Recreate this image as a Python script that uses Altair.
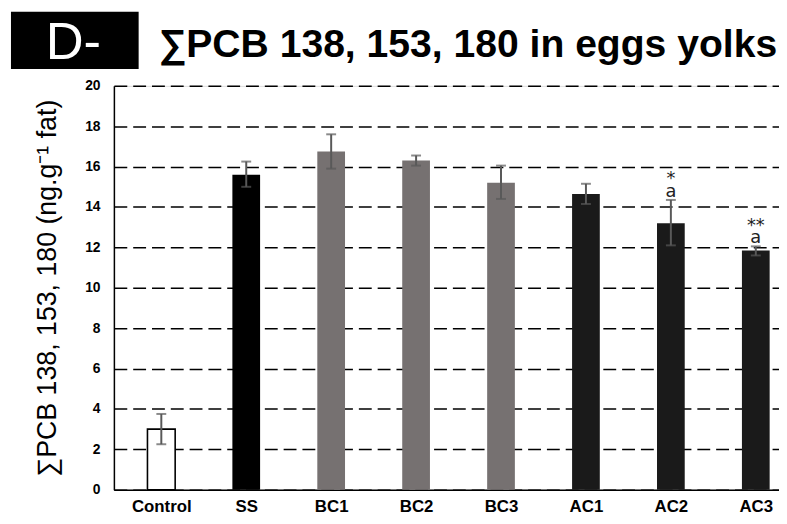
import altair as alt
import pandas as pd

groups = ["Control", "SS", "BC1", "BC2", "BC3", "AC1", "AC2", "AC3"]
means = [3.0, 15.6, 16.75, 16.3, 15.2, 14.65, 13.2, 11.85]
err_lo = [2.25, 15.0, 15.9, 16.05, 14.4, 14.15, 12.1, 11.6]
err_hi = [3.75, 16.25, 17.6, 16.55, 16.05, 15.15, 14.35, 12.05]
stars = ["", "", "", "", "", "", "*", "**"]
letters = ["", "", "", "", "", "", "a", "a"]
bar_colors = ["#ffffff", "#000000", "#767171", "#767171", "#767171", "#1a1a1a", "#1a1a1a", "#1a1a1a"]
y_ticks = list(range(0, 21, 2))
title_text = ["∑PCB 138, 153, 180 in eggs yolks"]
badge_label = ["D-"]

df = pd.DataFrame({
    "group": groups,
    "idx": list(range(len(groups))),
    "mean": means,
    "lo": err_lo,
    "hi": err_hi,
    "star": stars,
    "letter": letters,
})

FONT = "Liberation Sans"
label_expr = "[" + ",".join(f"'{g}'" for g in groups) + "][datum.value]"

x_enc = alt.X(
    "idx:Q",
    scale=alt.Scale(domain=[-0.5, 7.215], nice=False, zero=False),
    axis=alt.Axis(
        values=list(range(len(groups))), labelExpr=label_expr, ticks=False, grid=False,
        title=None, domainColor="black", domainWidth=1.5, labelFont=FONT,
        labelFontSize=17, labelFontWeight="bold", labelPadding=9, labelColor="black",
    ),
)

y_scale = alt.Scale(domain=[0, 20], nice=False)

base = alt.Chart(df)

bars = base.mark_bar(size=28, stroke="black").encode(
    x=x_enc,
    y=alt.Y(
        "mean:Q", scale=y_scale,
        axis=alt.Axis(
            values=y_ticks, grid=True, gridDash=[13, 6], gridColor="black", gridWidth=1.5,
            ticks=False, domainColor="black", domainWidth=1.5, labelFont=FONT,
            labelFontSize=14, labelFontWeight="bold", labelPadding=14, labelColor="black",
            title="∑PCB 138, 153, 180 (ng.g⁻¹  fat)", titleFont=FONT, titleFontSize=27,
            titleFontWeight="normal", titlePadding=23, titleColor="black",
        ),
    ),
    color=alt.Color("group:N", scale=alt.Scale(domain=groups, range=bar_colors), legend=None),
    strokeWidth=alt.condition(alt.datum.group == "Control", alt.value(1.6), alt.value(0)),
)

err_rule = base.mark_rule(color="#595959", strokeWidth=2).encode(
    x="idx:Q", y=alt.Y("lo:Q", scale=y_scale), y2="hi:Q"
)
cap_lo = base.mark_tick(orient="horizontal", size=10, thickness=2, color="#595959").encode(
    x="idx:Q", y=alt.Y("lo:Q", scale=y_scale)
)
cap_hi = base.mark_tick(orient="horizontal", size=10, thickness=2, color="#595959").encode(
    x="idx:Q", y=alt.Y("hi:Q", scale=y_scale)
)

letter_text = base.mark_text(font="DejaVu Sans", fontSize=18, color="#222222",
                             baseline="alphabetic", dy=-3).encode(
    x="idx:Q", y=alt.Y("hi:Q", scale=y_scale), text="letter:N"
)
star_text = base.mark_text(font="DejaVu Sans", fontSize=18, color="#222222",
                           baseline="alphabetic", dy=-16).encode(
    x="idx:Q", y=alt.Y("hi:Q", scale=y_scale), text="star:N"
)

badge_df = pd.DataFrame({"label": badge_label})
badge_box = alt.Chart(badge_df).mark_rect(color="black").encode(
    x=alt.value(-104), x2=alt.value(25), y=alt.value(-75), y2=alt.value(-17)
)
badge_text = alt.Chart(badge_df).mark_text(
    color="white", fontSize=53, font=FONT, align="center", baseline="alphabetic"
).encode(x=alt.value(-41), y=alt.value(-27), text="label:N")

title_df = pd.DataFrame({"t": title_text})
title_mark = alt.Chart(title_df).mark_text(
    color="black", fontSize=39.5, font=FONT, fontWeight="bold", align="left", baseline="alphabetic"
).encode(x=alt.value(45), y=alt.value(-29), text="t:N")

chart = alt.layer(
    bars, err_rule, cap_lo, cap_hi, letter_text, star_text, badge_box, badge_text, title_mark
).properties(
    width=672,
    height=408,
    autosize=alt.AutoSizeParams(type="none"),
    padding={"left": 107, "top": 76, "right": 0, "bottom": 30},
).configure_view(stroke=None).configure(font=FONT)

chart.save("out.html", embed_options={"renderer": "svg", "actions": False})
